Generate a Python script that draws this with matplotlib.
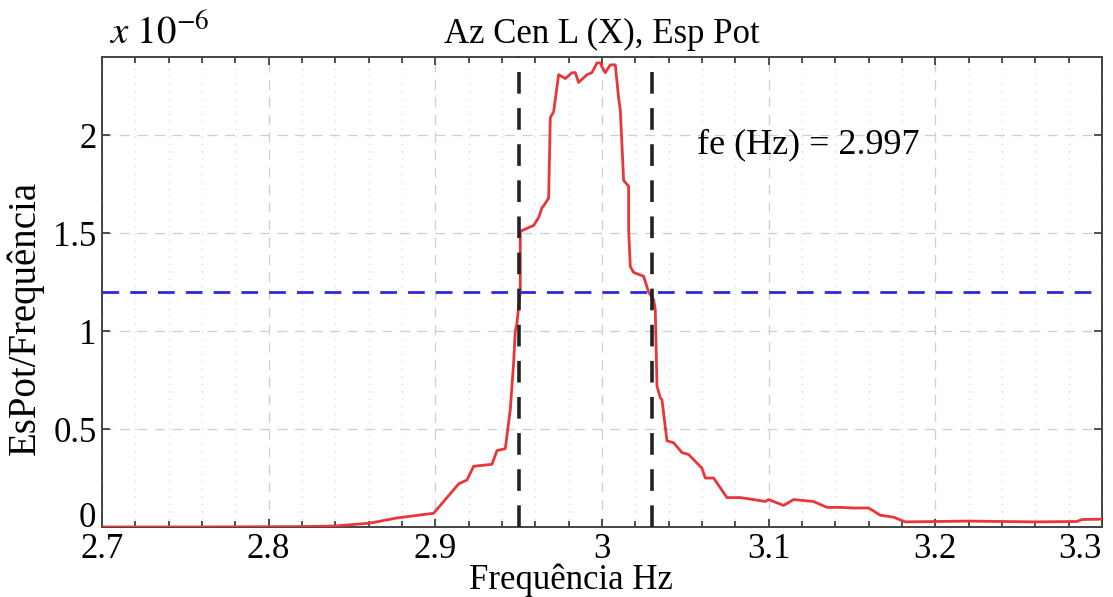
import matplotlib.pyplot as plt
from matplotlib.ticker import MultipleLocator

plt.rcParams['font.family'] = ['Liberation Serif', 'DejaVu Serif']
plt.rcParams['mathtext.fontset'] = 'stix'

# Espectro de potencia (valores x 1e-6)
freq = [2.700, 2.760, 2.820, 2.840, 2.861, 2.877, 2.899, 2.907, 2.914, 2.919,
        2.923, 2.934, 2.937, 2.942, 2.945, 2.947, 2.948, 2.949, 2.951, 2.951,
        2.959, 2.962, 2.964, 2.965, 2.968, 2.969, 2.971, 2.974, 2.978, 2.982,
        2.984, 2.986, 2.991, 2.994, 2.997, 2.999, 3.000, 3.002, 3.005, 3.008,
        3.010, 3.011, 3.013, 3.016, 3.016, 3.017, 3.019, 3.025, 3.028, 3.031,
        3.032, 3.033, 3.035, 3.036, 3.039, 3.043, 3.048, 3.052, 3.060, 3.062,
        3.067, 3.075, 3.083, 3.091, 3.098, 3.100, 3.109, 3.115, 3.127, 3.135,
        3.143, 3.151, 3.160, 3.167, 3.175, 3.179, 3.182, 3.220, 3.260, 3.285,
        3.288, 3.300]
espot = [0.000, 0.000, 0.002, 0.005, 0.020, 0.046, 0.070, 0.150, 0.220, 0.240,
         0.310, 0.320, 0.390, 0.400, 0.600, 0.840, 1.000, 1.040, 1.210, 1.510,
         1.540, 1.580, 1.630, 1.640, 1.680, 2.090, 2.120, 2.310, 2.290, 2.320,
         2.320, 2.270, 2.310, 2.320, 2.370, 2.370, 2.350, 2.320, 2.360, 2.360,
         2.190, 2.130, 1.770, 1.740, 1.520, 1.330, 1.300, 1.280, 1.200, 1.160,
         1.110, 0.720, 0.660, 0.650, 0.440, 0.430, 0.380, 0.370, 0.300, 0.250,
         0.250, 0.150, 0.150, 0.140, 0.130, 0.140, 0.110, 0.140, 0.130, 0.100,
         0.100, 0.097, 0.097, 0.060, 0.050, 0.036, 0.026, 0.030, 0.026, 0.028,
         0.038, 0.040]

limites = [2.95, 3.03]
nivel = 1.2
fe = 2.997

fig = plt.figure(figsize=(11.13, 5.97), dpi=100)
ax = fig.add_axes([0.0916, 0.1173, 0.8985, 0.7872])

ax.plot(freq, espot, color='#e8363a', linewidth=2.0, zorder=3)
for xv in limites:
    ax.axvline(xv, color='#222222', linestyle=(0, (6, 4)), linewidth=2.6, zorder=4)
ax.axhline(nivel, color='#2a2ad8', linestyle=(0, (6, 4)), linewidth=2.0, zorder=4)

ax.set_xlim(2.7, 3.3)
ax.set_ylim(0, 2.4)
ax.xaxis.set_minor_locator(MultipleLocator(0.02))
ax.set_xticks([2.7, 2.8, 2.9, 3.0, 3.1, 3.2, 3.3])
ax.set_xticklabels(['2.7', '2.8', '2.9', '3', '3.1', '3.2', '3.3'])
ax.get_xticklabels()[-1].set_horizontalalignment('right')
ax.set_yticks([0, 0.5, 1, 1.5, 2])
ax.set_yticklabels(['0', '0.5', '1', '1.5', '2'])
ax.get_yticklabels()[0].set_verticalalignment('baseline')

ax.grid(which='major', color='#cfcfcf', linestyle=(0, (8, 6)), linewidth=0.9)
ax.grid(which='minor', axis='x', color='#d6d6d6', linestyle=(0, (1, 5)), linewidth=0.9)
ax.tick_params(which='both', direction='in', top=True, right=True, labelsize=25,
               width=1.2, color='#333333')
ax.tick_params(which='major', length=6, pad=4)
ax.tick_params(which='minor', length=4)
for s in ax.spines.values():
    s.set_color('#444444')
    s.set_linewidth(1.4)

ax.set_title('Az Cen L (X), Esp Pot', fontsize=25, pad=10)
ax.set_xlabel('Frequência Hz', fontsize=25)
ax.xaxis.set_label_coords(0.469, -0.078)
ax.set_ylabel('EsPot/Frequência', fontsize=28)
ax.yaxis.set_label_coords(-0.058, 0.445)
ax.text(fe + 0.06, 1.95, 'fe (Hz) = %.3f' % fe, fontsize=26, va='center')
fig.text(0.098, 0.945, r'$x\ 10^{-6}$', fontsize=28, ha='left', va='center')

fig.savefig('out.png', dpi=100, facecolor='white')
